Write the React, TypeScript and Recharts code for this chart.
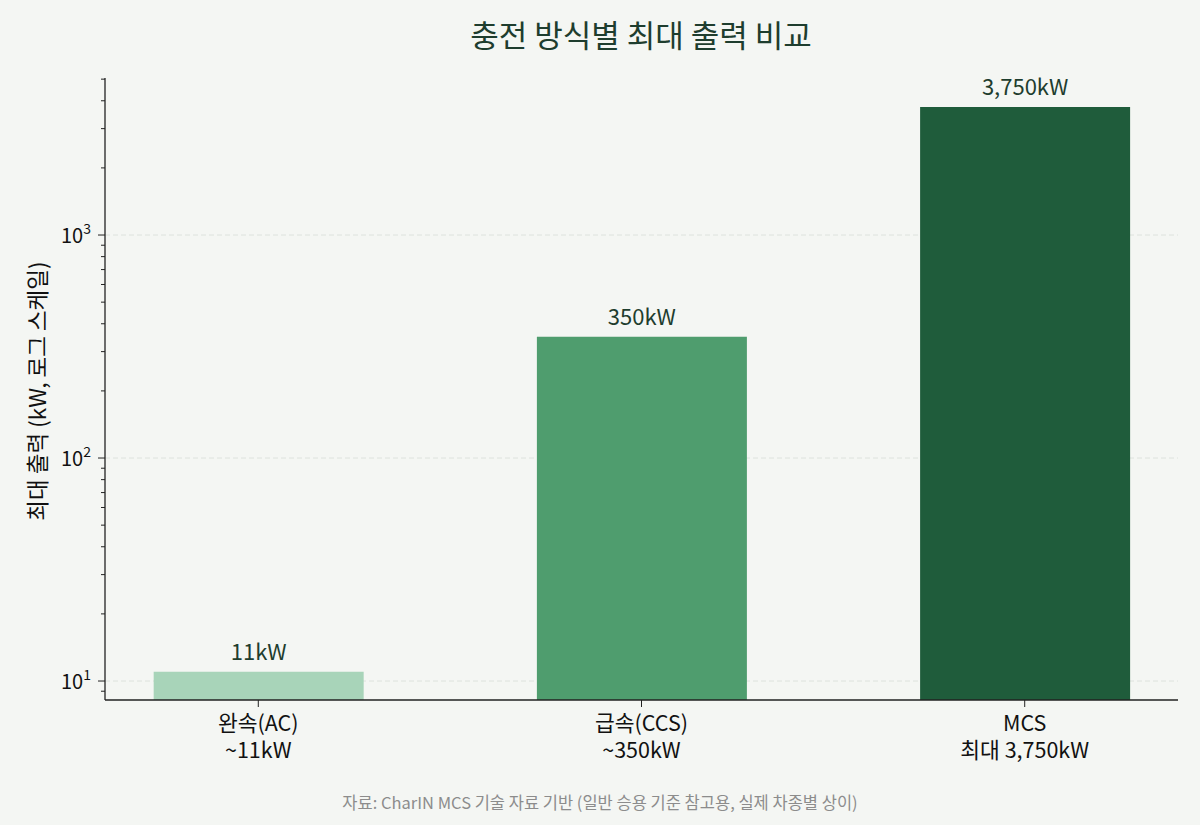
import React from "react";
import { BarChart, Bar, XAxis, YAxis, CartesianGrid, Cell, LabelList } from "recharts";

const CATEGORIES = ["완속(AC)", "급속(CCS)", "MCS"];
const SUBLABELS = ["~11kW", "~350kW", "최대 3,750kW"];
const POWER_KW = [11, 350, 3750];
const VALUE_LABELS = ["11kW", "350kW", "3,750kW"];
const BAR_COLORS = ["#a8d4b9", "#4f9d6e", "#1f5c3b"];

const MAJOR_TICKS = [10, 100, 1000];
const MINOR_TICKS = [9, 20, 30, 40, 50, 60, 70, 80, 90, 200, 300, 400, 500, 600, 700, 800, 900, 2000, 3000, 4000, 5000];
const EXPONENTS = { 10: "1", 100: "2", 1000: "3" };

const TITLE = "충전 방식별 최대 출력 비교";
const Y_LABEL = "최대 출력 (kW, 로그 스케일)";
const SOURCE = "자료: CharIN MCS 기술 자료 기반 (일반 승용 기준 참고용, 실제 차종별 상이)";

const FONT = "'Noto Sans CJK KR', 'Noto Sans', sans-serif";
const BG = "#f4f6f3";

const data = CATEGORIES.map((name, i) => ({
  idx: i,
  name,
  power: POWER_KW[i],
  label: VALUE_LABELS[i],
}));

const YTick = ({ x, y, payload }) => {
  const major = MAJOR_TICKS.includes(payload.value);
  const len = major ? 7 : 4;
  return (
    <g>
      <line x1={x - len} x2={x} y1={y} y2={y} stroke="#222" strokeWidth={1} />
      {major && (
        <text x={x - 14} y={y + 8} textAnchor="end" fontFamily={FONT} fontSize={20} fill="#111">
          10
          <tspan fontSize={14} dy={-9}>{EXPONENTS[payload.value]}</tspan>
        </text>
      )}
    </g>
  );
};

// two-line category label under each bar
const XTick = ({ x, y, payload }) => {
  const i = payload.value;
  return (
    <text x={x} y={y} textAnchor="middle" fontFamily={FONT} fontSize={21.5} fill="#111">
      <tspan x={x} dy={24}>{CATEGORIES[i]}</tspan>
      <tspan x={x} dy={27}>{SUBLABELS[i]}</tspan>
    </text>
  );
};

export default function App() {
  return (
    <div style={{ position: "relative", width: 1200, height: 825, background: BG }}>
      <style>{"body{margin:0}"}</style>
      <BarChart
        width={1200}
        height={825}
        data={data}
        margin={{ top: 78, right: 22, bottom: 0, left: 45 }}
      >
        <CartesianGrid
          vertical={false}
          horizontalValues={MAJOR_TICKS}
          stroke="#dde2dd"
          strokeDasharray="5 3"
        />
        <XAxis
          dataKey="idx"
          type="number"
          domain={[-0.4, 2.4]}
          ticks={[0, 1, 2]}
          allowDataOverflow
          axisLine={{ stroke: "#222", strokeWidth: 1.3 }}
          tickLine={{ stroke: "#222" }}
          tickSize={7}
          tickMargin={0}
          tick={<XTick />}
          height={125}
        />
        <YAxis
          scale="log"
          type="number"
          domain={[8.22, 5060]}
          allowDataOverflow
          ticks={[...MINOR_TICKS, ...MAJOR_TICKS].sort((a, b) => a - b)}
          interval={0}
          axisLine={{ stroke: "#222", strokeWidth: 1.3 }}
          tickLine={false}
          tickSize={0}
          tickMargin={0}
          tick={<YTick />}
          width={60}
        />
        <Bar dataKey="power" barSize={210} isAnimationActive={false}>
          {data.map((d, i) => (
            <Cell key={d.name} fill={BAR_COLORS[i]} />
          ))}
          <LabelList
            dataKey="label"
            position="top"
            offset={12}
            fontFamily={FONT}
            fontSize={22}
            fill="#1e3d2e"
          />
        </Bar>
      </BarChart>
      <svg
        width={1200}
        height={825}
        style={{ position: "absolute", left: 0, top: 0, pointerEvents: "none" }}
      >
        <text x={641} y={47} textAnchor="middle" fontFamily={FONT} fontSize={31} fill="#1e3d2e">
          {TITLE}
        </text>
        <text
          x={46}
          y={391}
          transform="rotate(-90 46 391)"
          textAnchor="middle"
          fontFamily={FONT}
          fontSize={22.5}
          fill="#111"
        >
          {Y_LABEL}
        </text>
        <text x={600} y={809} textAnchor="middle" fontFamily={FONT} fontSize={16.5} fill="#8c8c8c">
          {SOURCE}
        </text>
      </svg>
    </div>
  );
}
